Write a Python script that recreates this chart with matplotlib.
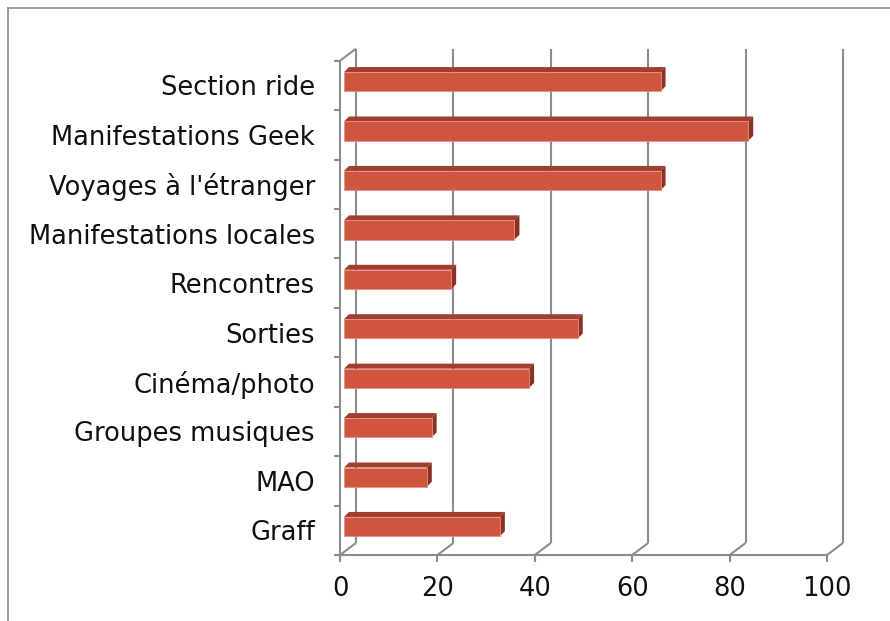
import matplotlib
matplotlib.use("Agg")
import matplotlib.pyplot as plt
from matplotlib.patches import Polygon, Rectangle
from matplotlib.lines import Line2D

# categories listed from bottom to top, as drawn on the y axis
categories = ["Graff", "MAO", "Groupes musiques", "Cinéma/photo", "Sorties",
              "Rencontres", "Manifestations locales", "Voyages à l'étranger",
              "Manifestations Geek", "Section ride"]
values = [32, 17, 18, 38, 48, 22, 35, 65, 83, 65]
x_ticks = [0, 20, 40, 60, 80, 100]

# colours of the 3d bar faces and of the frame
front_col = "#CF5540"
top_col = "#A13F2E"
side_col = "#893224"
grid_col = "#8C8C8C"

W, H = 890, 621
fig = plt.figure(figsize=(W / 100, H / 100), dpi=100)

# plot area = front plane of the 3d box (pixels measured on the reference)
left, right, bottom, top = 340, 827, 555, 60.7
ax = fig.add_axes([left / W, 1 - bottom / H, (right - left) / W, (bottom - top) / H])
ax.set_xlim(0, 100)
ax.set_ylim(0, len(categories))

px_x = (right - left) / 100.0
px_y = (bottom - top) / len(categories)

# depth of the box and of the bars, in data units
depth_dx = 16 / px_x
depth_dy = 12 / px_y
bar_x0 = 4 / px_x
bar_dx = 5 / px_x
bar_dy = 5 / px_y
bar_lo, bar_hi = 0.38, 0.77

lw = 1.5
kw = dict(color=grid_col, lw=lw, clip_on=False, solid_capstyle="butt")

# back wall gridlines and floor diagonals
for t in x_ticks:
    ax.plot([t + depth_dx, t + depth_dx], [depth_dy, len(categories) + depth_dy], **kw)
    ax.plot([t, t + depth_dx], [0, depth_dy], **kw)
# top diagonal of the left wall
ax.plot([0, depth_dx], [len(categories), len(categories) + depth_dy], **kw)

# bars
for i, v in enumerate(values):
    x0 = bar_x0
    x1 = bar_x0 + v
    y0 = i + bar_lo
    y1 = i + bar_hi
    ax.add_patch(Polygon([[x0, y1], [x1, y1], [x1 + bar_dx, y1 + bar_dy], [x0 + bar_dx, y1 + bar_dy]],
                         closed=True, facecolor=top_col, edgecolor="none", clip_on=False, zorder=3))
    ax.add_patch(Polygon([[x1, y0], [x1 + bar_dx, y0 + bar_dy], [x1 + bar_dx, y1 + bar_dy], [x1, y1]],
                         closed=True, facecolor=side_col, edgecolor="none", clip_on=False, zorder=3))
    ax.add_patch(Rectangle((x0, y0), v, y1 - y0, facecolor=front_col, edgecolor="#E59080",
                           lw=0.6, clip_on=False, zorder=4))

# axes: left and bottom spines only
for s in ["top", "right"]:
    ax.spines[s].set_visible(False)
for s in ["left", "bottom"]:
    ax.spines[s].set_color(grid_col)
    ax.spines[s].set_linewidth(lw)
ax.patch.set_visible(False)

ax.set_xticks(x_ticks)
ax.set_xticklabels([str(t) for t in x_ticks])
ax.tick_params(axis="x", length=5, width=lw, color=grid_col, pad=10, labelsize=18.5, labelcolor="#111111")

ax.set_yticks([i + 0.5 for i in range(len(categories))])
ax.set_yticklabels(categories)
ax.set_yticks(range(len(categories) + 1), minor=True)
ax.tick_params(axis="y", which="major", length=0, pad=18, labelsize=18.5, labelcolor="#111111")
ax.tick_params(axis="y", which="minor", length=4, width=lw, color=grid_col)

# outer chart frame (only top and left edges visible in the crop)
fig.add_artist(Line2D([8 / W, 8 / W], [0, 1 - 8 / H], color="#8C8C8C", lw=1.2))
fig.add_artist(Line2D([8 / W, 1], [1 - 8 / H, 1 - 8 / H], color="#8C8C8C", lw=1.2))

fig.savefig("out.png", dpi=100)
